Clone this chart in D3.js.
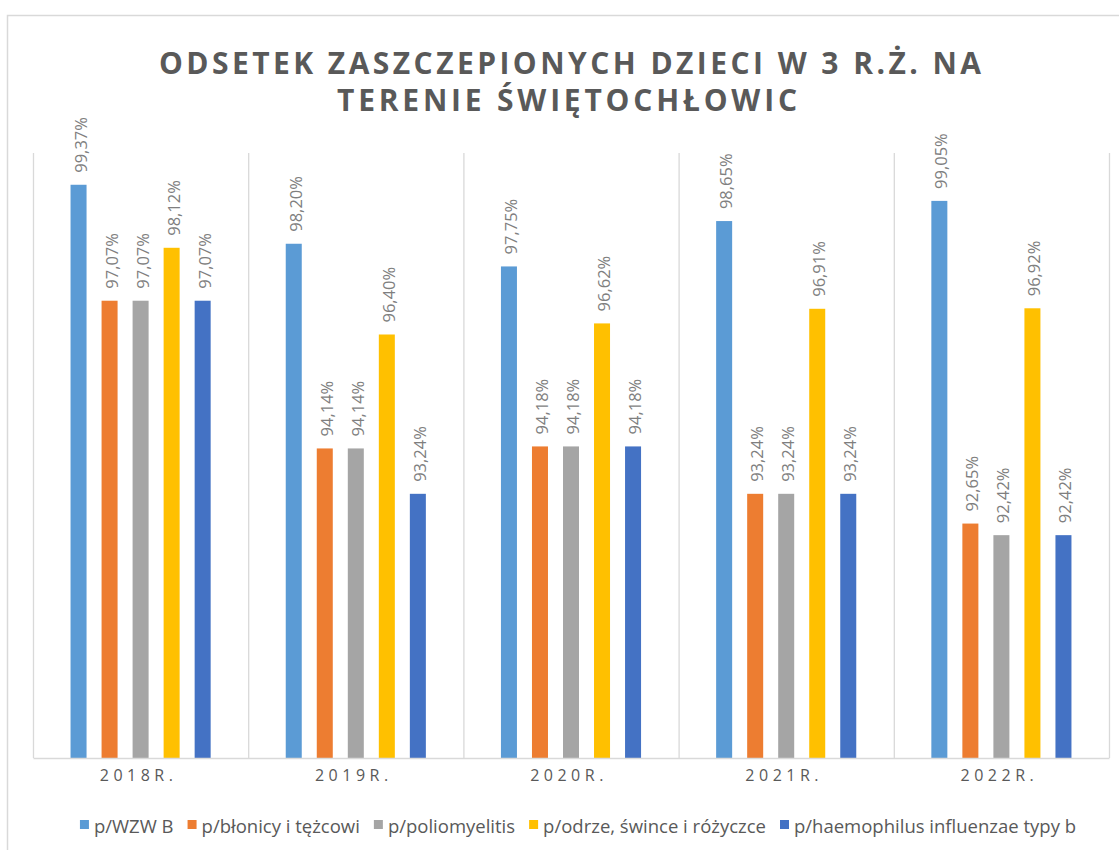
<!DOCTYPE html>
<html><head><meta charset="utf-8">
<script src="https://cdn.jsdelivr.net/npm/d3@7"></script>
<style>
html,body{margin:0;padding:0;background:#fff;}
text{font-family:"Open Sans","Noto Sans",sans-serif;}
</style></head>
<body><svg id="chart" width="1119" height="850"></svg>
<script>
const titleLines = ["ODSETEK  ZASZCZEPIONYCH  DZIECI  W 3 R.Ż. NA", "TERENIE  ŚWIĘTOCHŁOWIC"];
const categories = ["2018R.", "2019R.", "2020R.", "2021R.", "2022R."];
const seriesNames = ["p/WZW B", "p/błonicy i tężcowi", "p/poliomyelitis", "p/odrze, śwince i różyczce", "p/haemophilus influenzae typy b"];
const seriesColors = ["#5B9BD5", "#ED7D31", "#A5A5A5", "#FFC000", "#4472C4"];
const wzwB =        [99.37, 98.20, 97.75, 98.65, 99.05];
const blonica =     [97.07, 94.14, 94.18, 93.24, 92.65];
const polio =       [97.07, 94.14, 94.18, 93.24, 92.42];
const odra =        [98.12, 96.40, 96.62, 96.91, 96.92];
const haemophilus = [97.07, 93.24, 94.18, 93.24, 92.42];
const seriesValues = [wzwB, blonica, polio, odra, haemophilus];
const yDomain = [88, 100];

const svg = d3.select("#chart");
// outer chart border
svg.append("rect").attr("x",7.5).attr("y",15.5).attr("width",1130).attr("height",860)
  .attr("fill","none").attr("stroke","#d9d9d9").attr("stroke-width",1.5);

const plot = {left:33, right:1109, top:153, bottom:758};
const x0 = d3.scaleBand().domain(categories).range([plot.left, plot.right]).padding(0);
const x1 = d3.scaleBand().domain(d3.range(seriesNames.length)).range([0, x0.bandwidth()])
  .paddingInner(0.484).paddingOuter(1.21);
const y = d3.scaleLinear().domain(yDomain).range([plot.bottom, plot.top]);

// category separators
const seps = categories.map(c => x0(c)).concat([x0(categories[categories.length-1]) + x0.bandwidth()]);
svg.append("g").selectAll("line").data(seps).join("line")
  .attr("x1", d=>d+0.5).attr("x2", d=>d+0.5).attr("y1", plot.top).attr("y2", plot.bottom)
  .attr("stroke","#d9d9d9").attr("stroke-width",1.3);

// bars
const groups = svg.append("g").selectAll("g").data(categories).join("g")
  .attr("transform", c => `translate(${x0(c)},0)`);
const items = (ci) => seriesValues.map((vals, si) => ({si, v: vals[ci]}));
groups.each(function(c, ci){
  const g = d3.select(this);
  g.selectAll("rect").data(items(ci)).join("rect")
    .attr("x", d => x1(d.si)).attr("width", x1.bandwidth())
    .attr("y", d => y(d.v)).attr("height", d => y(yDomain[0]) - y(d.v))
    .attr("fill", d => seriesColors[d.si]);
  g.selectAll("text").data(items(ci)).join("text")
    .attr("transform", d => `translate(${x1(d.si) + x1.bandwidth()/2 + 1.5},${y(d.v) - 12}) rotate(-90)`)
    .attr("text-anchor","start").attr("dominant-baseline","central")
    .attr("font-size",16.5).attr("fill","#7f7f7f")
    .text(d => d.v.toFixed(2).replace(".", ",") + "%");
});

// baseline axis
const xAxis = d3.axisBottom(x0).tickSize(0).tickPadding(12);
const ax = svg.append("g").attr("transform",`translate(0,${plot.bottom})`).call(xAxis);
ax.select(".domain").attr("stroke","#d9d9d9").attr("stroke-width",1.3);
ax.selectAll("text").attr("font-size",16).attr("fill","#595959").attr("letter-spacing","4.5px")
  .attr("font-family",'"Open Sans",sans-serif').attr("dx","-2px");

// title
const title = svg.append("g").attr("fill","#595959").attr("font-weight","bold");
title.append("text").attr("x",570).attr("y",74).attr("text-anchor","middle").attr("font-size",30)
  .attr("textLength",822).attr("lengthAdjust","spacing").text(titleLines[0]);
title.append("text").attr("x",567).attr("y",111).attr("text-anchor","middle").attr("font-size",30)
  .attr("textLength",460).attr("lengthAdjust","spacing").text(titleLines[1]);

// legend
const leg = svg.append("g").attr("transform","translate(0,825)");
const li = leg.selectAll("g").data(seriesNames).join("g");
li.append("rect").attr("y",-5).attr("width",9).attr("height",9).attr("fill",(d,i)=>seriesColors[i]);
li.append("text").attr("x",14).attr("y",0).attr("dominant-baseline","central")
  .attr("font-size",18.5).attr("fill","#595959").text(d=>d);
let widths = [];
li.select("text").each(function(){ widths.push(this.getComputedTextLength() + 14); });
const gap = 14;
const total = d3.sum(widths) + gap*(widths.length-1);
let cx = 578 - total/2;
li.attr("transform",(d,i)=>{ const t = `translate(${cx},0)`; cx += widths[i] + gap; return t; });
</script></body></html>
